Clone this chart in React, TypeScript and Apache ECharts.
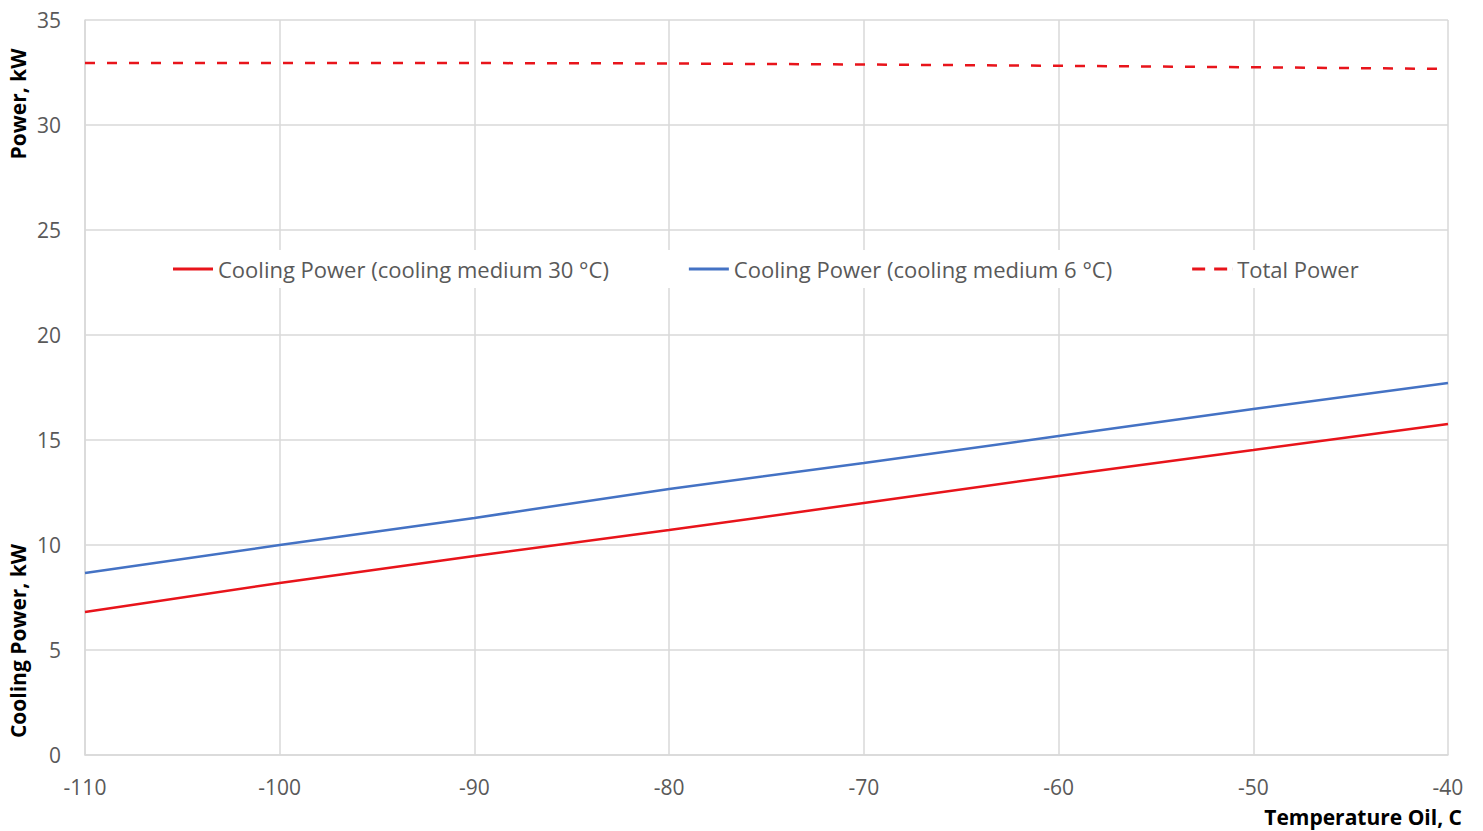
import React, { useEffect, useRef } from "react";
import * as echarts from "echarts";

const temps = [-110, -100, -90, -80, -70, -60, -50, -40];
const cooling30 = [6.81, 8.19, 9.48, 10.71, 12.0, 13.29, 14.52, 15.76];
const cooling6 = [8.67, 10.0, 11.29, 12.67, 13.9, 15.19, 16.48, 17.71];
const totalPower = [32.95, 32.95, 32.95, 32.93, 32.88, 32.82, 32.75, 32.67];
const seriesNames = [
  "Cooling Power (cooling medium 30 °C)",
  "Cooling Power (cooling medium 6 °C)",
  "Total Power",
];

const FONT = "'Open Sans', 'Noto Sans', sans-serif";
const SOLID_ICON = "path://M0,0 L40,0 L40,3 L0,3 Z";
const DASH_ICON = "path://M0,0 L13,0 L13,3 L0,3 Z M22,0 L35,0 L35,3 L22,3 Z M39.9,0 L40,0 L40,3 L39.9,3 Z";

export default function App() {
  const ref = useRef<HTMLDivElement>(null);
  useEffect(() => {
    if (!ref.current) return;
    const chart = echarts.init(ref.current, null, { renderer: "svg" });
    const toPairs = (arr: number[]) => temps.map((t, i) => [t, arr[i]]);
    chart.setOption({
      animation: false,
      backgroundColor: "#ffffff",
      grid: { left: 85, right: 35, top: 20, bottom: 76, containLabel: false },
      xAxis: {
        type: "value",
        min: -110,
        max: -40,
        interval: 10,
        axisLine: { show: true, lineStyle: { color: "#d9d9d9", width: 1.5 } },
        axisTick: { show: false },
        axisLabel: { color: "#595959", fontSize: 21, fontFamily: FONT, margin: 21 },
        splitLine: { show: true, lineStyle: { color: "#d9d9d9", width: 1.5 } },
      },
      yAxis: {
        type: "value",
        min: 0,
        max: 35,
        interval: 5,
        axisLine: { show: true, lineStyle: { color: "#d9d9d9", width: 1.5 } },
        axisTick: { show: false },
        axisLabel: { color: "#595959", fontSize: 21, fontFamily: FONT, margin: 24 },
        splitLine: { show: true, lineStyle: { color: "#d9d9d9", width: 1.5 } },
      },
      legend: {
        top: 250,
        left: 160,
        backgroundColor: "#ffffff",
        padding: [8, 12, 8, 13],
        itemGap: 80,
        itemWidth: 40,
        itemHeight: 3,
        textStyle: { color: "#595959", fontSize: 22, fontFamily: FONT },
        data: [
          { name: seriesNames[0], icon: SOLID_ICON },
          { name: seriesNames[1], icon: SOLID_ICON },
          { name: seriesNames[2], icon: DASH_ICON },
        ],
      },
      graphic: [
        {
          type: "text",
          x: 18,
          y: 104,
          rotation: Math.PI / 2,
          style: {
            text: "Power, kW",
            fontSize: 21,
            fontWeight: "bold",
            fontFamily: FONT,
            fill: "#000000",
            align: "center",
            verticalAlign: "middle",
          },
        },
        {
          type: "text",
          x: 18,
          y: 641,
          rotation: Math.PI / 2,
          style: {
            text: "Cooling Power, kW",
            fontSize: 21,
            fontWeight: "bold",
            fontFamily: FONT,
            fill: "#000000",
            align: "center",
            verticalAlign: "middle",
          },
        },
        {
          type: "text",
          right: 21,
          top: 806,
          style: {
            text: "Temperature Oil, C",
            fontSize: 21,
            fontWeight: "bold",
            fontFamily: FONT,
            fill: "#000000",
          },
        },
      ],
      series: [
        {
          name: seriesNames[0],
          type: "line",
          data: toPairs(cooling30),
          symbol: "none",
          lineStyle: { color: "#e8141b", width: 2.5 },
          itemStyle: { color: "#e8141b" },
        },
        {
          name: seriesNames[1],
          type: "line",
          data: toPairs(cooling6),
          symbol: "none",
          lineStyle: { color: "#4472c4", width: 2.5 },
          itemStyle: { color: "#4472c4" },
        },
        {
          name: seriesNames[2],
          type: "line",
          data: toPairs(totalPower),
          symbol: "none",
          lineStyle: { color: "#e8141b", width: 2.5, type: [10, 12] },
          itemStyle: { color: "#e8141b" },
        },
      ],
    });
    return () => chart.dispose();
  }, []);
  return <div ref={ref} style={{ width: 1483, height: 831, position: "absolute", left: 0, top: 0 }} />;
}
